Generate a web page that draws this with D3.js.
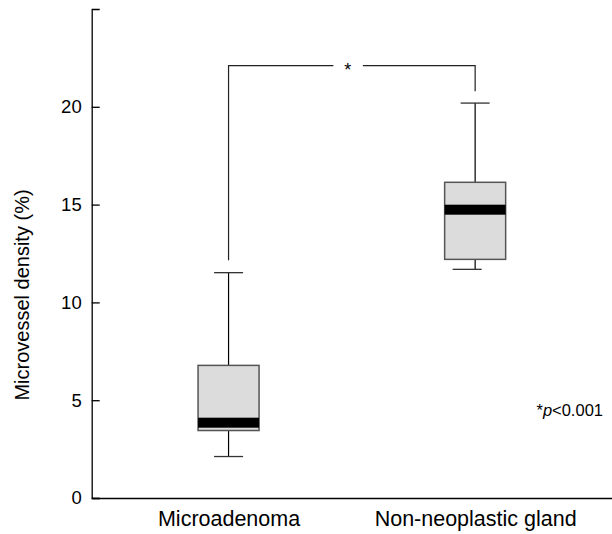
<!DOCTYPE html>
<html>
<head>
<meta charset="utf-8">
<script src="https://cdn.jsdelivr.net/npm/d3@7"></script>
<style>
  body { margin: 0; background: #fff; }
  text { font-family: "Liberation Sans", Arial, sans-serif; fill: #000; }
</style>
</head>
<body>
<div id="chart"></div>
<script>
// box plot values
var groups = ["Microadenoma", "Non-neoplastic gland"];
var whiskerLow = [2.12, 11.69];
var q1 = [3.45, 12.2];
var median = [3.85, 14.74];
var q3 = [6.78, 16.14];
var whiskerHigh = [11.52, 20.19];
var yTicks = [0, 5, 10, 15, 20];
// significance bracket: top level, and where each leg stops
var bracketLevel = 22.1;
var bracketFoot = [12.15, 20.8];
var pNote = "<0.001";

var width = 612, height = 534;
var axisX = 91.7, axisTop = 9, axisBottom = 498;
var boxHalf = 30.5, capHalf = 14.5, medianBand = 10;
var lowCapShift = [0, -8]; // the lower cap of the 2nd box sits a bit left in the original

var y = d3.scaleLinear().domain([0, 25]).range([axisBottom, axisTop]);
var x = d3.scalePoint().domain(groups).range([axisX, width]).padding(0.555);

var svg = d3.select("#chart").append("svg")
    .attr("width", width)
    .attr("height", height);

// y axis, ticks pointing inwards
var yAxis = svg.append("g")
    .attr("transform", "translate(" + axisX + ",0)")
    .call(d3.axisLeft(y).tickValues(yTicks).tickSizeInner(-8).tickSizeOuter(-8).tickPadding(10));
yAxis.selectAll("path, line").attr("stroke", "#000").attr("stroke-width", 1.3);
yAxis.selectAll("text").style("font-size", "18.5px").attr("fill", "#000");

// x axis, no ticks
var xAxis = svg.append("g")
    .attr("transform", "translate(0," + axisBottom + ")")
    .call(d3.axisBottom(x).tickSize(0).tickPadding(13));
xAxis.select(".domain").attr("stroke", "#000").attr("stroke-width", 1.5);
xAxis.selectAll("text").style("font-size", "21.5px").attr("fill", "#000");

svg.append("text")
    .attr("transform", "translate(29," + 295 + ") rotate(-90)")
    .attr("text-anchor", "middle")
    .style("font-size", "20px")
    .text("Microvessel density (%)");

var data = groups.map(function (g, i) {
    return {name: g, lo: whiskerLow[i], q1: q1[i], med: median[i], q3: q3[i], hi: whiskerHigh[i], shift: lowCapShift[i]};
});

var box = svg.selectAll(".box")
    .data(data)
    .enter().append("g")
    .attr("class", "box");

// whiskers
box.append("line")
    .attr("x1", function (d) { return x(d.name); })
    .attr("x2", function (d) { return x(d.name); })
    .attr("y1", function (d) { return y(d.hi); })
    .attr("y2", function (d) { return y(d.q3); })
    .attr("stroke", "#000").attr("stroke-width", 1.2);
box.append("line")
    .attr("x1", function (d) { return x(d.name); })
    .attr("x2", function (d) { return x(d.name); })
    .attr("y1", function (d) { return y(d.q1); })
    .attr("y2", function (d) { return y(d.lo); })
    .attr("stroke", "#000").attr("stroke-width", 1.2);
// caps
box.append("line")
    .attr("x1", function (d) { return x(d.name) - capHalf; })
    .attr("x2", function (d) { return x(d.name) + capHalf; })
    .attr("y1", function (d) { return y(d.hi); })
    .attr("y2", function (d) { return y(d.hi); })
    .attr("stroke", "#333").attr("stroke-width", 1.3);
box.append("line")
    .attr("x1", function (d) { return x(d.name) + d.shift - capHalf; })
    .attr("x2", function (d) { return x(d.name) + d.shift + capHalf; })
    .attr("y1", function (d) { return y(d.lo); })
    .attr("y2", function (d) { return y(d.lo); })
    .attr("stroke", "#333").attr("stroke-width", 1.3);

// box
box.append("rect")
    .attr("x", function (d) { return x(d.name) - boxHalf; })
    .attr("y", function (d) { return y(d.q3); })
    .attr("width", boxHalf * 2)
    .attr("height", function (d) { return y(d.q1) - y(d.q3); })
    .attr("fill", "#dcdcdc")
    .attr("stroke", "#555")
    .attr("stroke-width", 1.5);

// thick median band
box.append("rect")
    .attr("x", function (d) { return x(d.name) - boxHalf; })
    .attr("y", function (d) { return y(d.med) - medianBand / 2; })
    .attr("width", boxHalf * 2)
    .attr("height", medianBand)
    .attr("fill", "#000");

// significance bracket
var bx0 = x(groups[0]), bx1 = x(groups[1]), by = y(bracketLevel);
var mid = (bx0 + bx1) / 2;
var bracket = svg.append("g").attr("fill", "none").attr("stroke", "#222").attr("stroke-width", 1.2);
bracket.append("path")
    .attr("d", "M" + bx0 + "," + y(bracketFoot[0]) + "V" + by + "H" + (mid - 18.5));
bracket.append("path")
    .attr("d", "M" + (mid + 11) + "," + by + "H" + bx1 + "V" + y(bracketFoot[1]));
svg.append("text")
    .attr("x", mid - 4)
    .attr("y", by + 10.5)
    .attr("text-anchor", "middle")
    .style("font-size", "18px")
    .text("*");

// p value note
var note = svg.append("text")
    .attr("x", 603)
    .attr("y", y(4.2))
    .attr("text-anchor", "end")
    .style("font-size", "16.5px");
note.append("tspan").text("*");
note.append("tspan").style("font-style", "italic").text("p");
note.append("tspan").text(pNote);
</script>
</body>
</html>
